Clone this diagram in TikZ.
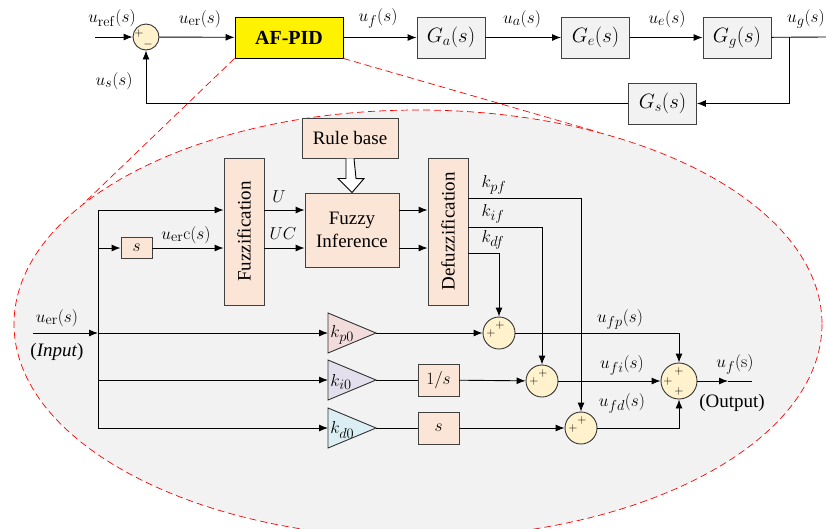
\documentclass[tikz,border=0pt]{standalone}
\usepackage[no-math]{fontspec}
\setmainfont{Liberation Serif}
\usetikzlibrary{arrows.meta}
\definecolor{peach}{HTML}{FBE5D6}
\definecolor{sumy}{HTML}{FFF2CC}
\definecolor{kpc}{HTML}{F2DCDB}
\definecolor{kic}{HTML}{E4DFEC}
\definecolor{kdc}{HTML}{DBEEF4}
\begin{document}
\begin{tikzpicture}[x=1pt,y=-1pt,line width=0.9pt,
    >={Latex[length=9pt,width=7pt]},
    blk/.style={draw=black!75,fill=black!5,minimum width=68pt,minimum height=41pt,inner sep=0pt,font=\fontsize{20}{24}\selectfont},
    fz/.style={draw=black!75,fill=peach,inner sep=0pt,font=\fontsize{19}{23}\selectfont},
    sm/.style={circle,draw=black!80,fill=sumy,minimum size=32pt,inner sep=0pt},
    lbl/.style={font=\fontsize{19}{22}\selectfont,inner sep=0pt},
    pl/.style={font=\fontsize{12}{12}\selectfont,inner sep=0pt}]
    \useasboundingbox (0,0) rectangle (826,528);
    % zoom ellipse
    \draw[red,dashed,line width=0.7pt,dash pattern=on 7pt off 4pt,fill=black!5] (418,324) ellipse [x radius=404, y radius=214];
    \coordinate (tl) at (83,204);
    \coordinate (tr) at (598,132);

    % outer loop
    \node[sm,minimum size=26pt] (e0) at (146,37) {};
    \node[pl] at (139,33) {$+$};
    \node[pl] at (148,44) {$-$};
    \node[blk,fill=yellow,draw=black,minimum width=108pt,font=\bfseries\fontsize{20}{24}\selectfont] (pid) at (289,37.5) {AF-PID};
    \node[blk] (ga) at (451,37.5) {$G_a(s)$};
    \node[blk] (ge) at (595.5,37.5) {$G_e(s)$};
    \node[blk] (gg) at (737,37.5) {$G_g(s)$};
    \node[blk] (gs) at (662.5,103.5) {$G_s(s)$};
    \coordinate (ref) at (95,37);
    \coordinate (br) at (789,37);
    \coordinate (out) at (826,37);
    \draw[red,dashed,line width=0.7pt,dash pattern=on 7pt off 4pt] (pid.south west) -- (tl) (pid.south east) -- (tr);
    \draw[->] (ref) -- (e0);
    \draw[->] (e0) -- (pid);
    \draw[->] (pid) -- (ga);
    \draw[->] (ga) -- (ge);
    \draw[->] (ge) -- (gg);
    \draw (gg) -- (out);
    \draw[->] (br) |- (gs);
    \draw[->] (gs) -| (e0);
    \node[lbl] at (112,18) {$u_{\mathrm{ref}}(s)$};
    \node[lbl] at (200,19) {$u_{\mathrm{er}}(s)$};
    \node[lbl] at (378,18) {$u_f(s)$};
    \node[lbl] at (522,19) {$u_a(s)$};
    \node[lbl] at (667,19) {$u_e(s)$};
    \node[lbl] at (806,19) {$u_g(s)$};
    \node[lbl] at (114,81) {$u_s(s)$};

    % fuzzy part
    \node[fz,minimum width=96pt,minimum height=40pt] (rb) at (350,138) {Rule base};
    \node[fz,minimum width=40pt,minimum height=147pt] (fzf) at (244,231.5) {\rotatebox{90}{Fuzzification}};
    \node[fz,minimum width=94pt,minimum height=74pt,align=center] (fi) at (352,230) {Fuzzy\\Inference};
    \node[fz,minimum width=40pt,minimum height=147pt] (dfz) at (448,231.5) {\rotatebox{90}{Defuzzification}};
    \node[fz,minimum width=31pt,minimum height=21pt] (sd) at (136.5,248) {$s$};
    \draw[fill=white] ([xshift=-4pt]rb.south) -- ++(0,20) -- ++(-8,0) -- (fi.north) -- ++(12,-14) -- ++(-8,0) -- ([xshift=4pt]rb.south);
    \coordinate (b1) at (98,210);
    \coordinate (b2) at (98,248);
    \coordinate (bi) at (98,333);
    \coordinate (b3) at (98,380);
    \coordinate (b4) at (98,428);
    \coordinate (inp) at (33,333);
    \draw (b1) -- (b4);
    \draw[->] (b1) -- (b1 -| fzf.west);
    \draw[->] (b2) -- (sd);
    \draw[->] (sd) -- (sd -| fzf.west);
    \draw[->] (fzf.east |- b1) -- (fi.west |- b1);
    \draw[->] (fzf.east |- sd) -- (fi.west |- sd);
    \draw[->] (fi.east |- b1) -- (dfz.west |- b1);
    \draw[->] (fi.east |- sd) -- (dfz.west |- sd);
    \node[lbl] at (186,235) {$u_{\mathrm{er}}\mathrm{c}(s)$};
    \node[lbl] at (279,197) {$U$};
    \node[lbl] at (283,234) {$UC$};

    % PID part
    \coordinate (kp) at (328,333); \coordinate (kpt) at (376,333);
    \coordinate (ki) at (328,380); \coordinate (kit) at (376,380);
    \coordinate (kd) at (328,428); \coordinate (kdt) at (376,428);
    \foreach \g/\c in {kp/kpc,ki/kic,kd/kdc}
        \draw[draw=black!80,fill=\c] (\g) -- ++(0,-20) -- ++(48,20) -- ++(-48,20) -- cycle;
    \node[lbl,anchor=west] at (330,335) {$k_{p0}$};
    \node[lbl,anchor=west] at (330,382) {$k_{i0}$};
    \node[lbl,anchor=west] at (330,430) {$k_{d0}$};
    \node[fz,minimum width=41pt,minimum height=32pt] (int) at (438.5,380) {$1/s$};
    \node[fz,minimum width=41pt,minimum height=32pt] (der) at (438.5,428) {$s$};
    \node[sm] (sp) at (499,333) {};
    \node[sm] (si) at (542,381) {};
    \node[sm] (sdd) at (581,428) {};
    \node[sm,minimum size=36pt] (sf) at (679,381) {};
    \foreach \s in {sp,si,sdd}{
        \node[pl] at ([xshift=1pt,yshift=8pt]\s.center) {$+$};
        \node[pl] at ([xshift=-8pt,yshift=0pt]\s.center) {$+$};
    }
    \node[pl] at ([yshift=10pt]sf.center) {$+$};
    \node[pl] at ([xshift=-11pt]sf.center) {$+$};
    \node[pl] at ([yshift=-10pt]sf.center) {$+$};
    \coordinate (ya) at (728,381);
    \coordinate (yb) at (752,381);
    \draw[->] (inp) -- (bi);
    \draw[->] (bi) -- (kp);
    \draw[->] (b3) -- (ki);
    \draw[->] (b4) -- (kd);
    \draw[->] (kpt) -- (sp);
    \draw (kit) -- (int);
    \draw[->] (int) -- (si);
    \draw (kdt) -- (der);
    \draw[->] (der) -- (sdd);
    \draw[->] ([yshift=-21.5pt]dfz.east) -| (sp.north);
    \draw[->] ([yshift=4.5pt]dfz.east) -| (si.north);
    \draw[->] ([yshift=33.5pt]dfz.east) -| (sdd.north);
    \draw[->] (sp) -| (sf.north);
    \draw[->] (si) -- (sf);
    \draw[->] (sdd) -| (sf.south);
    \draw[->] (sf) -- (ya);
    \draw (ya) -- (yb);
    \node[lbl] at (494,185) {$k_{pf}$};
    \node[lbl] at (493,214) {$k_{if}$};
    \node[lbl] at (493,240) {$k_{df}$};
    \node[lbl] at (57,318) {$u_{\mathrm{er}}(s)$};
    \node[lbl] at (57,352) {(\textit{Input})};
    \node[lbl] at (620,319) {$u_{fp}(s)$};
    \node[lbl] at (622,365) {$u_{fi}(s)$};
    \node[lbl] at (622,403) {$u_{fd}(s)$};
    \node[lbl] at (735,364) {$u_f(\mathrm{s})$};
    \node[lbl] at (732,403) {(Output)};
\end{tikzpicture}
\end{document}
